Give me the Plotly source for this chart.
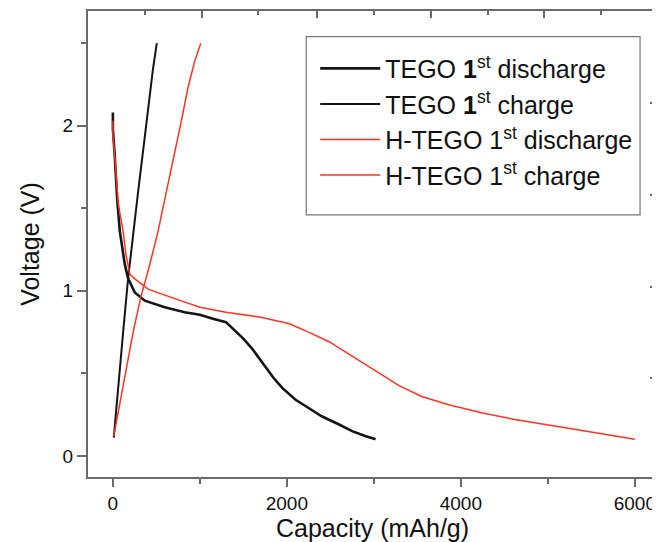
import plotly.graph_objects as go

# TEGO 1st discharge
tego_dis_cap = [0, 0, 20, 50, 80, 137, 175, 252, 367, 596, 825, 1000, 1150, 1300, 1400,
                1500, 1600, 1700, 1850, 1950, 2100, 2250, 2400, 2600, 2750, 2900, 3020]
tego_dis_v = [2.08, 1.98, 1.83, 1.55, 1.36, 1.16, 1.075, 0.99, 0.94, 0.90, 0.87, 0.855, 0.83, 0.81, 0.76,
              0.71, 0.65, 0.58, 0.47, 0.41, 0.34, 0.29, 0.24, 0.19, 0.15, 0.12, 0.10]
# TEGO 1st charge
tego_chg_cap = [10, 60, 118, 175, 233, 290, 350, 405, 460, 505]
tego_chg_v = [0.11, 0.42, 0.75, 1.075, 1.36, 1.60, 1.86, 2.12, 2.34, 2.50]
# H-TEGO 1st discharge
htego_dis_cap = [0, 0, 25, 60, 80, 118, 150, 195, 271, 405, 671, 825, 1000, 1300, 1700, 2030, 2250,
                 2490, 2700, 2950, 3290, 3550, 3860, 4250, 4620, 5200, 5600, 6000]
htego_dis_v = [2.03, 1.95, 1.79, 1.54, 1.47, 1.36, 1.22, 1.10, 1.065, 1.01, 0.96, 0.93, 0.90, 0.87, 0.84,
               0.80, 0.75, 0.69, 0.62, 0.54, 0.425, 0.36, 0.31, 0.26, 0.22, 0.17, 0.135, 0.10]
# H-TEGO 1st charge
htego_chg_cap = [10, 80, 160, 233, 320, 420, 519, 600, 691, 780, 863, 940, 1010]
htego_chg_v = [0.12, 0.32, 0.55, 0.75, 0.96, 1.15, 1.36, 1.57, 1.79, 2.01, 2.23, 2.39, 2.50]

names = ["TEGO <b>1</b><sup>st</sup> discharge", "TEGO <b>1</b><sup>st</sup> charge",
         "H-TEGO 1<sup>st</sup> discharge", "H-TEGO 1<sup>st</sup> charge"]

x_tickvals = [0, 2000, 4000, 6000]
x_minor = [1000, 3000, 5000]
y_tickvals = [0, 1, 2]
y_minor = [0.5, 1.5, 2.5]

BLACK = "#151515"
RED = "#ff3322"
AX = "#6a6a6a"
FONT = "Liberation Sans, Arial, sans-serif"

# page body has an 8px margin; figure is sized so plot area lands at
# x 88..659, y 11..474 in the 660x542 window
W, H = 652, 534
ML, MR, MT, MB = 80, 1, 3, 60
PW, PH = W - ML - MR, H - MT - MB


def px_x(p):
    return (p - 8 - ML) / PW


def px_y(p):
    return (H - MB - (p - 8)) / PH


fig = go.Figure()
series = [
    (tego_dis_cap, tego_dis_v, BLACK, 2.6),
    (tego_chg_cap, tego_chg_v, BLACK, 2.0),
    (htego_dis_cap, htego_dis_v, RED, 1.5),
    (htego_chg_cap, htego_chg_v, RED, 1.5),
]
for i, (cx, vy, col, w) in enumerate(series):
    fig.add_trace(go.Scatter(x=cx, y=vy, mode="lines", name=names[i],
                             line=dict(color=col, width=w), legendgroup=f"g{i}"))

# dummy trace for the mirrored top/right tick axes
fig.add_trace(go.Scatter(x=[0, 1], y=[0, 1], xaxis="x2", yaxis="y2", mode="markers",
                         marker=dict(opacity=0), showlegend=False, hoverinfo="skip"))

top_major = [px_x(p) for p in [202, 318, 432, 546]]
top_minor = [px_x(p) for p in [145, 259, 375, 489, 603]]
right_major = [px_y(p) for p in [104, 197, 290, 382]]
right_minor = [px_y(p) for p in [58, 150, 243, 336, 428]]

fig.update_layout(
    width=W, height=H,
    margin=dict(l=ML, r=MR, t=MT, b=MB),
    paper_bgcolor="white", plot_bgcolor="white",
    font=dict(family=FONT, color="#111", size=19),
    showlegend=True,
    legend=dict(x=px_x(316), y=px_y(46), xanchor="left", yanchor="top",
                bgcolor="rgba(0,0,0,0)", borderwidth=0,
                font=dict(size=25, family=FONT, color="#111"),
                tracegroupgap=0, itemwidth=60, traceorder="grouped"),
    xaxis=dict(range=[-286, 6255], tickvals=x_tickvals, ticks="outside", ticklen=8,
               tickwidth=1.5, tickcolor=AX, showline=True, linecolor=AX, linewidth=2,
               mirror=True, showgrid=False, zeroline=False,
               minor=dict(tickvals=x_minor, ticks="outside", ticklen=5, tickcolor=AX, tickwidth=1.5),
               title=dict(text="Capacity (mAh/g)", font=dict(size=25), standoff=10),
               tickfont=dict(size=19)),
    yaxis=dict(range=[-0.128, 2.695], tickvals=y_tickvals, ticks="outside", ticklen=9,
               tickwidth=1.5, tickcolor=AX, showline=True, linecolor=AX, linewidth=2,
               mirror=True, showgrid=False, zeroline=False,
               minor=dict(tickvals=y_minor, ticks="outside", ticklen=5, tickcolor=AX, tickwidth=1.5),
               title=dict(text="Voltage (V)", font=dict(size=25), standoff=16),
               tickfont=dict(size=19)),
    xaxis2=dict(overlaying="x", side="top", range=[0, 1], tickvals=top_major, ticks="inside",
                ticklen=7, tickwidth=1.5, tickcolor=AX, showticklabels=False, showgrid=False,
                zeroline=False, showline=False,
                minor=dict(tickvals=top_minor, ticks="inside", ticklen=4, tickcolor=AX, tickwidth=1.5)),
    yaxis2=dict(overlaying="y", side="right", range=[0, 1], tickvals=right_major, ticks="inside",
                ticklen=7, tickwidth=1.5, tickcolor=AX, showticklabels=False, showgrid=False,
                zeroline=False, showline=False,
                minor=dict(tickvals=right_minor, ticks="inside", ticklen=4, tickcolor=AX, tickwidth=1.5)),
    shapes=[dict(type="rect", xref="paper", yref="paper",
                 x0=px_x(307), x1=px_x(642), y0=px_y(217), y1=px_y(37),
                 line=dict(color="#777", width=1.2), fillcolor="rgba(0,0,0,0)")],
)

fig.write_html("out.html")
